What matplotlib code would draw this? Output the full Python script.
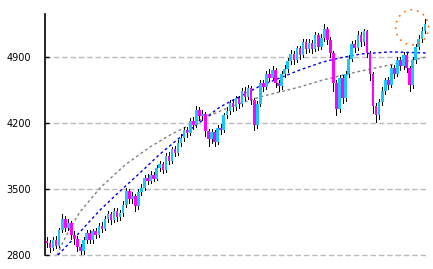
import numpy as np
import matplotlib
matplotlib.use('Agg')
import matplotlib.pyplot as plt
from matplotlib.patches import Ellipse

# closing prices, one per candle (open = previous close)
closes = [2930, 2870, 2960, 2900, 3060, 3180, 3090, 3140, 3010, 2970,
          2880, 2840, 2960, 3030, 2960, 3050, 3010, 3110, 3080, 3180,
          3230, 3170, 3270, 3200, 3240, 3330, 3480, 3390, 3430, 3320,
          3470, 3510, 3620, 3580, 3650, 3610, 3720, 3760, 3700, 3850,
          3800, 3920, 3880, 3990, 4040, 4120, 4090, 4220, 4180, 4340,
          4270, 4300, 4110, 4030, 4100, 4000, 4150, 4120, 4280, 4330,
          4410, 4370, 4460, 4400, 4540, 4480, 4570, 4440, 4180, 4400,
          4620, 4580, 4720, 4680, 4760, 4620, 4590, 4720, 4770, 4860,
          4930, 4870, 4990, 4920, 5060, 4980, 5050, 4980, 5130, 5010,
          5100, 5200, 5080, 4940, 4620, 4350, 4680, 4460, 4720, 4880,
          5040, 4990, 5130, 5060, 5170, 4940, 4720, 4380, 4280, 4420,
          4540, 4650, 4600, 4780, 4720, 4870, 4800, 4920, 4780, 4600,
          4870, 5010, 5090, 5180, 5250]
first_open = 2950
highs = [2990, 2960, 2990, 3000, 3090, 3230, 3210, 3180, 3160, 3050,
         3000, 2920, 2990, 3060, 3060, 3080, 3090, 3140, 3150, 3210,
         3270, 3260, 3300, 3300, 3280, 3370, 3510, 3500, 3470, 3450,
         3500, 3550, 3650, 3660, 3690, 3680, 3750, 3800, 3790, 3880,
         3890, 3950, 3960, 4020, 4080, 4160, 4160, 4250, 4260, 4380,
         4370, 4340, 4320, 4140, 4140, 4130, 4180, 4190, 4310, 4370,
         4440, 4450, 4490, 4490, 4570, 4580, 4600, 4590, 4460, 4430,
         4650, 4660, 4750, 4770, 4800, 4780, 4650, 4750, 4810, 4890,
         4970, 4960, 5020, 5020, 5090, 5090, 5090, 5080, 5160, 5150,
         5140, 5250, 5220, 5110, 4960, 4650, 4710, 4710, 4750, 4920,
         5070, 5080, 5170, 5160, 5200, 5190, 4960, 4740, 4410, 4450,
         4580, 4680, 4690, 4810, 4810, 4900, 4900, 4950, 4940, 4800,
         4900, 5040, 5130, 5220, 5300]
lows = [2890, 2830, 2850, 2870, 2880, 3040, 3050, 3060, 2970, 2920,
        2840, 2800, 2810, 2930, 2930, 2930, 2980, 2990, 3040, 3060,
        3150, 3130, 3150, 3160, 3170, 3210, 3310, 3350, 3350, 3270,
        3290, 3440, 3490, 3550, 3560, 3580, 3590, 3690, 3670, 3680,
        3770, 3780, 3850, 3860, 3960, 4010, 4050, 4070, 4140, 4160,
        4230, 4230, 4060, 3960, 3990, 3960, 3980, 4080, 4100, 4250,
        4300, 4330, 4340, 4360, 4380, 4440, 4450, 4400, 4120, 4150,
        4380, 4540, 4560, 4640, 4650, 4580, 4540, 4560, 4690, 4740,
        4830, 4830, 4850, 4880, 4900, 4940, 4950, 4940, 4960, 4970,
        4980, 5070, 5040, 4900, 4540, 4280, 4320, 4410, 4430, 4690,
        4860, 4950, 4970, 5020, 5030, 4900, 4660, 4310, 4210, 4240,
        4390, 4510, 4560, 4580, 4680, 4700, 4760, 4770, 4740, 4540,
        4570, 4840, 4980, 5060, 5150]

# trend curves (candle index, value)
gray_x = [3.3, 5.3, 7.6, 10.8, 17.4, 25.6, 33.8, 40.4, 50.2, 60.0,
          69.9, 83.0, 90.6, 101.7, 112.5, 124.7]
gray_y = [2800, 2938, 3086, 3256, 3511, 3755, 3945, 4073, 4232, 4370,
          4476, 4582, 4656, 4741, 4815, 4900]
blue_x = [3.6, 10.8, 17.4, 24.0, 30.5, 37.1, 44.6, 56.8, 69.9, 83.0,
          90.6, 96.1, 103.3, 112.5, 124.7]
blue_y = [2800, 3044, 3277, 3479, 3670, 3871, 4073, 4370, 4592, 4762,
          4847, 4889, 4932, 4953, 4942]

yticks = [2800, 3500, 4200, 4900]

fig = plt.figure(figsize=(4.33, 2.69), dpi=100)
ax = fig.add_axes([45/433, 14/269, 382/433, 241/269])

x = np.arange(len(closes))
opens = [first_open] + closes[:-1]
up = [c >= o for o, c in zip(opens, closes)]
bot = [min(o, c) for o, c in zip(opens, closes)]
hgt = [max(abs(c - o), 10) for o, c in zip(opens, closes)]
cols = ['#18c8f4' if u else '#ff00ff' for u in up]

ax.vlines(x, lows, highs, color='black', linewidth=0.72, zorder=2, antialiased=False)
ax.bar(x, hgt, bottom=bot, width=0.85, color=cols, linewidth=0, zorder=3,
       antialiased=False)

ax.plot(gray_x, gray_y, color='#808080', linewidth=1, linestyle=(0, (2, 2)), zorder=1)
ax.plot(blue_x, blue_y, color='#0000ee', linewidth=1, linestyle=(0, (2, 2)), zorder=1)

ax.add_patch(Ellipse((119.8, 5213), 10.8, 371, fill=False, edgecolor='#ff6a00',
                     linewidth=1.2, linestyle=(0, (1, 3)), zorder=4, clip_on=False))

ax.set_xlim(-0.66, 124.7)
ax.set_ylim(2800, 5355)
ax.set_yticks(yticks)
ax.set_yticklabels([str(v) for v in yticks], fontsize=7)
ax.set_xticks([])
ax.tick_params(axis='y', direction='in', length=3, width=1, pad=10)
for v in yticks:
    ax.axhline(v, color='#bbbbbb', linewidth=1, linestyle=(0, (4, 2)), zorder=0,
               clip_on=False)

for s in ['top', 'right', 'bottom']:
    ax.spines[s].set_visible(False)
ax.spines['left'].set_linewidth(1.2)

fig.savefig('out.png', dpi=100)
